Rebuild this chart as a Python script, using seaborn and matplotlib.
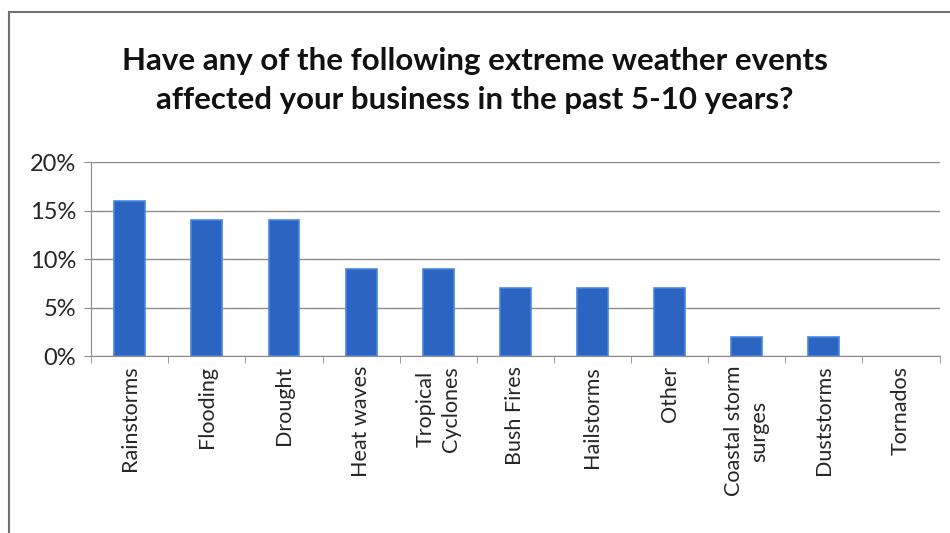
import matplotlib
matplotlib.use("Agg")
import matplotlib.pyplot as plt
import seaborn as sns
import pandas as pd
from matplotlib.patches import Rectangle

# data
events = ["Rainstorms", "Flooding", "Drought", "Heat waves", "Tropical\nCyclones",
          "Bush Fires", "Hailstorms", "Other", "Coastal storm\nsurges", "Duststorms", "Tornados"]
shares = [16, 14, 14, 9, 9, 7, 7, 7, 2, 2, 0]
yticks = [0, 5, 10, 15, 20]
ytick_labels = ["0%", "5%", "10%", "15%", "20%"]

df = pd.DataFrame({"event": events, "share": shares})

sns.set_style("white")
plt.rcParams['font.family'] = ['Lato', 'DejaVu Sans']

fig = plt.figure(figsize=(9.5, 5.33), dpi=100)
ax = fig.add_axes([0.096, 0.332, 0.893, 0.364])

sns.barplot(data=df, x="event", y="share", color="#2C64C2", width=0.4,
            edgecolor="#4A86E0", linewidth=1.2, saturation=1, ax=ax)
for p in ax.patches:
    if p.get_height() == 0:
        p.set_visible(False)

ax.set_ylim(0, 20)
ax.set_xlim(-0.5, len(events) - 0.5)
ax.set_yticks(yticks)
ax.set_yticklabels(ytick_labels, fontsize=17)
ax.yaxis.grid(True, color="#8c8c8c", linewidth=1)
ax.set_axisbelow(True)
ax.set_xlabel("")
ax.set_ylabel("")
ax.set_xticks(range(len(events)))
ax.set_xticklabels(events, rotation=90, fontsize=15.5, va="top", ha="center",
                   linespacing=1.35)
ax.tick_params(axis="x", length=0, pad=7)
ax.tick_params(axis="y", length=5, color="#8c8c8c", left=True, pad=6)
# minor ticks between categories
ax.set_xticks([i + 0.5 for i in range(-1, len(events))], minor=True)
ax.tick_params(axis="x", which="minor", length=5, color="#8c8c8c", bottom=True)

for s in ["top", "right"]:
    ax.spines[s].set_visible(False)
ax.spines["left"].set_color("#8c8c8c")
ax.spines["bottom"].set_color("#8c8c8c")

fig.text(0.5, 0.885, "Have any of the following extreme weather events",
         ha="center", va="center", fontsize=22.5, fontweight="bold", color="#111111")
fig.text(0.5, 0.812, "affected your business in the past 5-10 years?",
         ha="center", va="center", fontsize=22.5, fontweight="bold", color="#111111")

# outer frame of the chart
fig.patches.append(Rectangle((0.009, -0.01), 1.2, 0.988, transform=fig.transFigure,
                             fill=False, edgecolor="#707070", linewidth=1.5))

fig.savefig("out.png", dpi=100)
